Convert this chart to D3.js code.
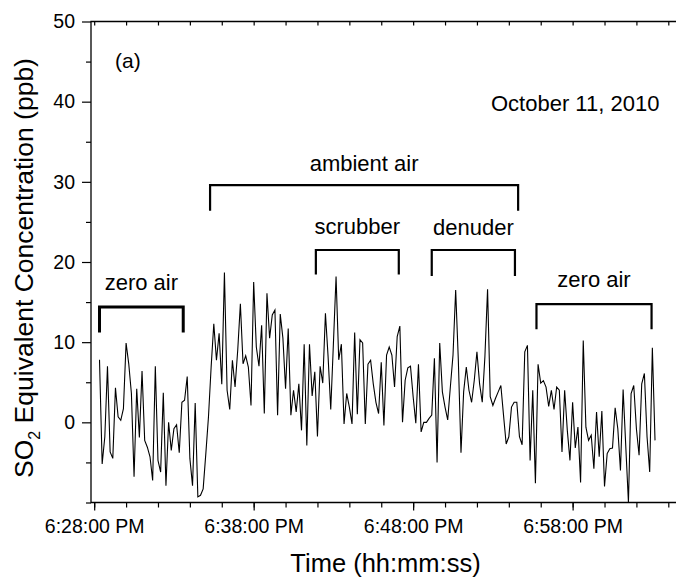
<!DOCTYPE html>
<html><head><meta charset="utf-8">
<script src="https://cdn.jsdelivr.net/npm/d3@7"></script>
<style>
body{margin:0;background:#fff}
svg{display:block}
text{font-family:"Liberation Sans",Arial,Helvetica,sans-serif;fill:#000}
</style>
</head><body>
<svg id="chart" width="676" height="580"></svg>
<script>
// ---- data (SO2 equivalent concentration, ppb, 10-second samples from 6:28:20 PM) ----
const so2 = [
 7.8, -5.2, -1.8, 7.0, -3.7, -4.5, 4.3, 0.7, 0.25, 1.7,
 9.9, 7.3, 3.6, -6.8, 4.2, -1.9, 6.4, -2.25, -3.1, -4.3,
 -7.25, 7.0, -4.75, -6.2, 3.7, -7.9, 0, -3.5, -0.8, -0.3,
 -3.8, 2.5, 2.75, 5.7, -4.5, -7.9, 2.4, -9.3, -9.1, -8.3,
 -3.9, 0.7, 6.9, 12.3, 7.75, 11.1, 4.75, 18.7, 4, 1.6,
 7.75, 4.4, 9, 14.8, 7.3, 8.3, 6.9, 2.1, 17.5, 9.4,
 7.0, 12.1, 1.1, 16.1, 10.5, 13.4, 14.0, 0.9,
 13.5, 10.5, 4.2, 11.7, 0.9, 4, 1.3, 4.8, -1, 9.75,
 -2.9, 9.75, 3.3, 6.3, -1.75, 7, 4.9, 13.6, 8.2, 1.6,
 9.8, 18.2, 7.8, 9.75, -0.2, 3.6, 1.9, -0.2, 11.2, 1,
 10.3, 9.9, -0.2, 7.25, 7.75, 4.8, 2.5, 1.1, 7.5, -0.4,
 8.4, 9.4, 8.4, 4.4, 10.7, 12, 0, 5.25, 6.8, 7,
 3.2, -0.1, 7.25, -1.2, 0, 0, 0.5, 0.9, 8, -5,
 9.9, 3.8, 1.9, 0.3, 4.4, 8.4, 16.5, 7.75, -3.8, 3.8,
 6.9, 4,
 2.5, 5.25, 8.8, 4.8, 2.5, 8.2, 16.6, 3.2, 2.1, 3,
 3.8, 4.6, 0.9, -2.7, -1.8, 1.9, 2.5, 2.5, -1.8, -2.8,
 8.8, 9.6, -4.75, 4, -7.6, 7.25, 4.9, 5.2, 4.4, 2,
 4, 1.6, 4.4, 4, -3.7, 4, -1, -4.75, 2.5, -3.2,
 -0.6, -7.5, 10.2, -0.6, -2.25, -1.6, -5.8, 1.3, -4.3, 1.4,
 -8, -3.9, -3.3, -3.2, 1.8, -0.8, -6, 4.1, -3, -10,
 3.6, 4.6, -0.8, -4.1, 4.8, 6.1, -1.8, -6.2, 9.3, -2.25
];
const startTime = "18:28:20";
const stepSeconds = 10;

const xDomain = ["18:27:48", "19:04:44"];
const yDomain = [-10, 50];

const xMajorTicks = ["18:28:00", "18:38:00", "18:48:00", "18:58:00"];
const xTickLabels = ["6:28:00 PM", "6:38:00 PM", "6:48:00 PM", "6:58:00 PM"];
const yMajorTicks = [0, 10, 20, 30, 40, 50];
const yTickLabels = ["0", "10", "20", "30", "40", "50"];
const yMinorTicks = [-10, -5, 5, 15, 25, 35, 45];

const segLabels = ["zero air", "ambient air", "scrubber", "denuder", "zero air"];
const segStart  = ["18:28:20", "18:35:16", "18:41:54", "18:49:10", "18:55:44"];
const segEnd    = ["18:33:35", "18:54:35", "18:47:06", "18:54:23", "19:02:57"];
const segTop    = [14.4, 29.6, 21.5, 21.5, 14.75];
const segLeg    = [11.2, 26.4, 18.45, 18.25, 11.6];
const segText   = [16.5, 31.35, 23.5, 23.4, 16.9];

const panelLabel = "(a)";
const dateLabel = "October 11, 2010";
const xTitle = "Time (hh:mm:ss)";

// ---- helpers ----
function t(s){ const p = s.split(":").map(Number); return new Date(2010, 9, 11, p[0], p[1], p[2] || 0); }
const t0 = t(startTime);
const series = so2.map((v, i) => ({ time: new Date(t0.getTime() + i * stepSeconds * 1000), value: v }));

const L = 91, R = 680, T = 21.5, B = 502.5;
const x = d3.scaleTime().domain(xDomain.map(t)).range([L, R]);
const y = d3.scaleLinear().domain(yDomain).range([B, T]);

const svg = d3.select("#chart");
const allMinuteTicks = d3.timeMinute.every(2).range(t("18:28:00"), t("19:05:00"));

// clip
svg.append("defs").append("clipPath").attr("id", "plot")
  .append("rect").attr("x", L).attr("y", T).attr("width", R - L).attr("height", B - T);

// data line
svg.append("path")
  .datum(series)
  .attr("clip-path", "url(#plot)")
  .attr("fill", "none").attr("stroke", "#000").attr("stroke-width", 1.1)
  .attr("stroke-linejoin", "miter")
  .attr("d", d3.line().x(d => x(d.time)).y(d => y(d.value)));

// axes
const fs = "19.5px";
const gB = svg.append("g").attr("transform", `translate(0,${B})`);
gB.call(d3.axisBottom(x).tickValues(allMinuteTicks).tickSize(5).tickFormat(""));
gB.append("g").call(d3.axisBottom(x).tickValues(xMajorTicks.map(t)).tickSize(8).tickPadding(9)
   .tickFormat((d, i) => xTickLabels[i]));
const gT = svg.append("g").attr("transform", `translate(0,${T})`);
gT.call(d3.axisTop(x).tickValues(allMinuteTicks).tickSize(-4).tickFormat(""));
const gL = svg.append("g").attr("transform", `translate(${L},0)`);
gL.call(d3.axisLeft(y).tickValues(yMinorTicks).tickSize(5).tickFormat(""));
gL.append("g").call(d3.axisLeft(y).tickValues(yMajorTicks).tickSize(9).tickPadding(7)
   .tickFormat((d, i) => yTickLabels[i]));

svg.selectAll(".domain").remove();
svg.selectAll(".tick line").attr("stroke", "#000").attr("stroke-width", 1.2);
svg.selectAll(".tick text").style("font-size", fs).attr("font-family", null).attr("fill", "#000");

// frame
svg.append("path").attr("fill", "none").attr("stroke", "#000").attr("stroke-width", 1.3)
  .attr("d", `M${R},${T}H${L}V${B}H${R}`);

// brackets
segLabels.forEach((lab, i) => {
  const x1 = x(t(segStart[i])), x2 = x(t(segEnd[i]));
  svg.append("path").attr("fill", "none").attr("stroke", "#000")
    .attr("stroke-width", i === 0 ? 3 : 2.2)
    .attr("d", `M${x1},${y(segLeg[i])}V${y(segTop[i])}H${x2}V${y(segLeg[i])}`);
  svg.append("text").attr("x", (x1 + x2) / 2).attr("y", y(segText[i]))
    .attr("text-anchor", "middle").style("font-size", "22px").text(lab);
});

// labels
svg.append("text").attr("x", 115).attr("y", 68).style("font-size", "21px").text(panelLabel);
svg.append("text").attr("x", 491).attr("y", 111).style("font-size", "22px").text(dateLabel);
svg.append("text").attr("x", (L + R) / 2).attr("y", 572).attr("text-anchor", "middle")
  .style("font-size", "25.5px").text(xTitle);

const yt = svg.append("text").attr("transform", "translate(33,268) rotate(-90)")
  .attr("text-anchor", "middle").style("font-size", "26.5px");
yt.append("tspan").text("SO");
yt.append("tspan").attr("dy", 7).style("font-size", "16px").text("2");
yt.append("tspan").attr("dy", -7).text(" Equivalent Concentration (ppb)");
</script>
</body></html>
